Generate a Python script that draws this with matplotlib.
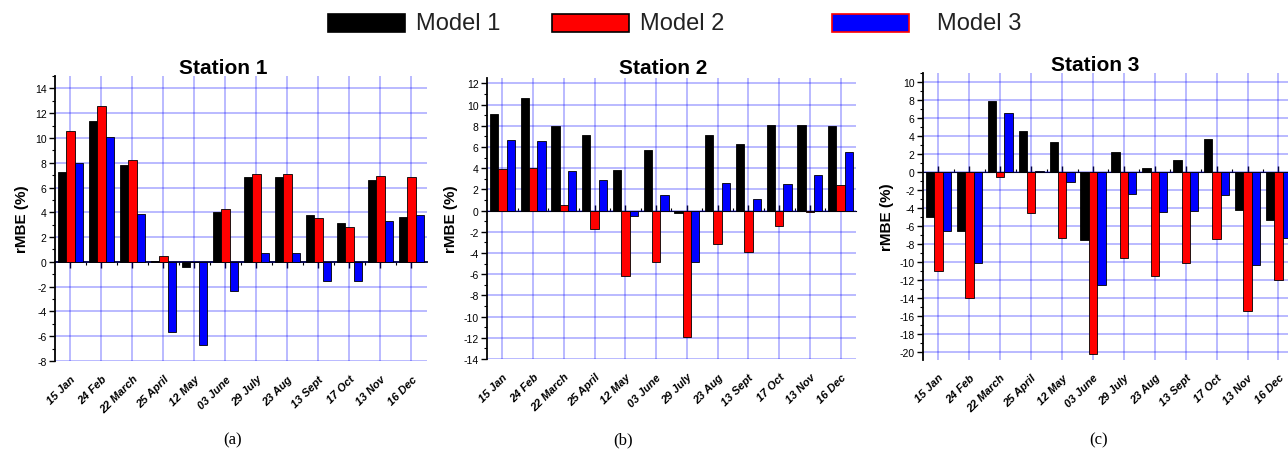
import numpy as np
import matplotlib.pyplot as plt
from matplotlib.patches import Rectangle
from matplotlib.ticker import MultipleLocator

plt.rcParams['font.family'] = ['Liberation Sans', 'DejaVu Sans']
plt.rcParams['axes.unicode_minus'] = False

# Sampling dates (x categories)
dates = ['15 Jan', '24 Feb', '22 March', '25 April', '12 May', '03 June',
         '29 July', '23 Aug', '13 Sept', '17 Oct', '13 Nov', '16 Dec']

models = ['Model 1', 'Model 2', 'Model 3']
model_colors = ['#000000', '#ff0000', '#0000ff']

# rMBE (%) per station and model
st1_m1 = [7.25, 11.35, 7.8, 0.08, -0.38, 4.05, 6.87, 6.87, 3.79, 3.17, 6.6, 3.6]
st1_m2 = [10.55, 12.6, 8.24, 0.45, 0.0, 4.27, 7.06, 7.06, 3.52, 2.79, 6.95, 6.87]
st1_m3 = [8.0, 10.1, 3.9, -5.66, -6.7, -2.36, 0.75, 0.75, -1.53, -1.58, 3.33, 3.79]

st2_m1 = [9.12, 10.65, 8.02, 7.11, 3.79, 5.73, -0.22, 7.17, 6.23, 8.11, 8.08, 7.99]
st2_m2 = [3.95, 4.01, 0.5, -1.72, -6.14, -4.86, -11.9, -3.2, -3.95, -1.47, -0.13, 2.38]
st2_m3 = [6.7, 6.55, 3.7, 2.91, -0.5, 1.5, -4.89, 2.57, 1.07, 2.47, 3.38, 5.55]

st3_m1 = [-5.0, -6.56, 7.96, 4.56, 3.41, -7.48, 2.22, 0.44, 1.33, 3.67, -4.15, -5.26]
st3_m2 = [-10.93, -14.0, -0.48, -4.52, -7.3, -20.19, -9.56, -11.48, -10.07, -7.41, -15.4, -11.96]
st3_m3 = [-6.52, -10.07, 6.63, 0.19, -1.04, -12.52, -2.37, -4.41, -4.33, -2.48, -10.3, -7.3]

stations = ['Station 1', 'Station 2', 'Station 3']
station_data = [[st1_m1, st1_m2, st1_m3],
                [st2_m1, st2_m2, st2_m3],
                [st3_m1, st3_m2, st3_m3]]
y_limits = [(-8, 15), (-14, 12.5), (-20.8, 11)]
captions = ['(a)', '(b)', '(c)']

# axes boxes in figure fractions (left, bottom, width, height)
boxes = [(0.0427, 0.1991, 0.2888, 0.6305),
         (0.3781, 0.2035, 0.2865, 0.6217),
         (0.7166, 0.2024, 0.2880, 0.6330)]
title_pos = [(0.452, 1.030), (0.477, 1.036), (0.464, 1.030)]
caption_x = [233, 623, 1099]

fig = plt.figure(figsize=(12.88, 4.52), dpi=100)

x = np.arange(1, len(dates) + 1)
bar_w = 0.27
grid_kw = dict(color='#0000ff', alpha=0.35, lw=1.1, zorder=1)

for k in range(3):
    ax = fig.add_axes(boxes[k])
    ymin, ymax = y_limits[k]
    for m in range(3):
        ax.bar(x + (m - 1) * bar_w, station_data[k][m], width=bar_w,
               color=model_colors[m], edgecolor='black', linewidth=0.6, zorder=2)
    ax.set_xlim(0.5, len(dates) + 0.5)
    ax.set_ylim(ymin, ymax)

    # grid
    ax.yaxis.set_major_locator(MultipleLocator(2))
    ax.yaxis.set_minor_locator(MultipleLocator(1))
    for gy in ax.get_yticks():
        if ymin <= gy <= ymax:
            ax.axhline(gy, **grid_kw)
    for gx in x:
        ax.axvline(gx, **grid_kw)

    for s in ['top', 'right', 'bottom']:
        ax.spines[s].set_visible(False)
    ax.spines['left'].set_linewidth(1.3)

    ax.set_xticks(x)
    ax.set_xticklabels(dates, rotation=45, ha='right', rotation_mode='anchor',
                       fontsize=8, fontweight='bold', fontstyle='italic')
    ax.tick_params(axis='x', length=0, pad=9)
    ax.tick_params(axis='y', which='major', direction='out', length=4,
                   width=1, labelsize=7.5, pad=2)
    ax.tick_params(axis='y', which='minor', direction='out', length=2, width=0.8)

    # zero line with its own ticks
    zero_frac = (0 - ymin) / (ymax - ymin)
    sec = ax.secondary_xaxis(zero_frac)
    sec.set_xticks(x)
    sec.set_xticks(x[:-1] + 0.5, minor=True)
    sec.set_xticklabels([])
    sec.tick_params(which='major', direction='out', length=4, width=1)
    sec.tick_params(which='minor', direction='out', length=2, width=0.8)
    sec.spines['bottom'].set_linewidth(1.3)

    ax.set_ylabel('rMBE (%)', fontsize=11, fontweight='bold', labelpad=4)
    ax.text(title_pos[k][0], title_pos[k][1], stations[k], transform=ax.transAxes,
            ha='center', va='center', fontsize=15, fontweight='bold')

    fig.text(caption_x[k] / 1288, 1 - 440 / 452, captions[k], ha='center',
             va='center', fontsize=12, family=['Liberation Serif', 'DejaVu Serif'])

# legend across the top
legend_box_x = [328, 552, 832]
legend_text_x = [416, 640, 937]
legend_edges = ['#000000', '#000000', '#ff0000']
for m in range(3):
    fig.patches.append(Rectangle((legend_box_x[m] / 1288, 1 - 33 / 452), 77 / 1288, 18 / 452,
                                 transform=fig.transFigure, facecolor=model_colors[m],
                                 edgecolor=legend_edges[m], linewidth=1.2))
    fig.text(legend_text_x[m] / 1288, 1 - 24 / 452, models[m], ha='left', va='center',
             fontsize=17, color='#222222')

fig.savefig('out.png', dpi=100)
